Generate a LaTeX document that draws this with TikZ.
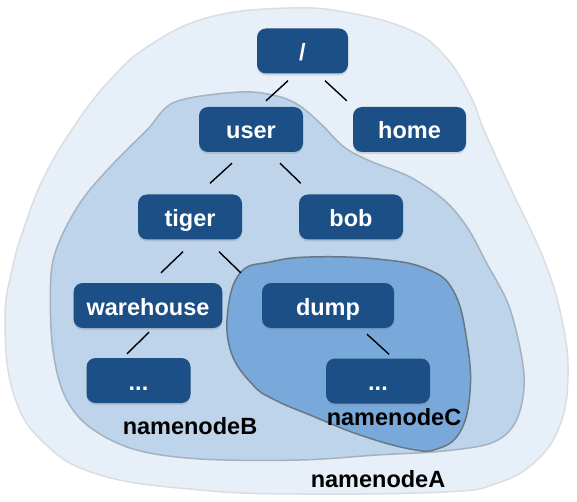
\documentclass[tikz,border=0pt]{standalone}
\usepackage{fontspec}
\setmainfont{Liberation Sans}
\usetikzlibrary{shadows}

\definecolor{dirblue}{RGB}{27,79,134}
\definecolor{fillA}{RGB}{231,239,248}
\definecolor{lineA}{RGB}{218,222,227}
\definecolor{fillB}{RGB}{190,212,235}
\definecolor{lineB}{RGB}{165,178,192}
\definecolor{fillC}{RGB}{121,169,218}
\definecolor{lineC}{RGB}{105,118,132}

\begin{document}
\begin{tikzpicture}[x=1pt, y=-1pt,
  dir/.style={fill=dirblue, rounded corners=9pt, text=white,
    font=\bfseries\fontsize{23.5}{28}\selectfont,
    minimum height=45pt, minimum width=104pt, inner xsep=13pt,
    text height=19pt, text depth=0pt,
    drop shadow={shadow xshift=0pt, shadow yshift=-2pt, opacity=0.25}},
  link/.style={line width=1.4pt, black},
  nsname/.style={font=\bfseries\fontsize{23.5}{28}\selectfont}]
\useasboundingbox (0,0) rectangle (577,502);

\draw[line width=1.5pt, lineA, fill=fillA] plot[smooth cycle, tension=0.7] coordinates {
  (290,8) (350,13) (410,30) (444,55) (470,95) (484,130) (510,187) (544,260)
  (562,320) (568,375) (560,425) (535,462) (495,484) (444,492) (300,494)
  (200,490) (100,475) (43,442) (13,392) (5,320) (12,270) (25,225) (45,175)
  (75,125) (110,80) (150,45) (210,17)};

\draw[line width=1.5pt, lineB, fill=fillB] plot[smooth cycle, tension=0.55] coordinates {
  (175,102) (240,92) (277,96) (300,106) (322,125) (344,147) (370,161)
  (410,177) (444,200) (467,227) (486,262) (510,309) (524,375) (517,419)
  (494,442) (444,451) (377,455) (300,460) (200,459) (133,449) (87,425)
  (63,392) (52,342) (51,275) (60,240) (82,200) (112,165) (147,130)};

\draw[line width=1.5pt, lineC, fill=fillC] plot[smooth cycle, tension=0.7] coordinates {
  (241,272) (270,262) (310,257) (377,259) (427,269) (454,292) (467,342)
  (470,392) (460,432) (437,449) (410,449) (360,435) (310,415) (275,400)
  (253,385) (231,352) (228,309)};

\node[dir, minimum width=91pt] (root) at (302.5,51) {/};
\node[dir] (user) at (251,129.5) {user};
\node[dir, minimum width=113pt] (home) at (409.5,129.5) {home};
\node[dir] (tiger) at (190,217) {tiger};
\node[dir] (bob) at (351,217) {bob};
\node[dir] (warehouse) at (148,305.5) {warehouse};
\node[dir, minimum width=132pt] (dump) at (328,305.5) {dump};
\node[dir] (whdots) at (138.5,380.5) {...};
\node[dir] (dumpdots) at (378,381) {...};

\draw[link] ([shift={(-14.5,7)}]root.south) -- ([shift={(15,-6)}]user.north);
\draw[link] ([shift={(22.5,7)}]root.south) -- ([shift={(-6,-6)}]home.north west);
\draw[link] ([shift={(-19,11)}]user.south) -- ([shift={(20,-11)}]tiger.north);
\draw[link] ([shift={(29,11)}]user.south) -- ([shift={(2,-11)}]bob.north west);
\draw[link] ([shift={(-7,12)}]tiger.south) -- ([shift={(13,-10)}]warehouse.north);
\draw[link] ([shift={(29,12)}]tiger.south) -- ([shift={(-21,-10)}]dump.north west);
\draw[link] ([shift={(1,4)}]warehouse.south) -- ([shift={(-11.5,-4)}]whdots.north);
\draw[link] ([shift={(39,6)}]dump.south) -- ([shift={(11,-4)}]dumpdots.north);

\node[nsname] (nnB) at (190,426) {namenodeB};
\node[nsname] (nnC) at (394,417) {namenodeC};
\node[nsname] (nnA) at (378,479) {namenodeA};

\end{tikzpicture}
\end{document}
